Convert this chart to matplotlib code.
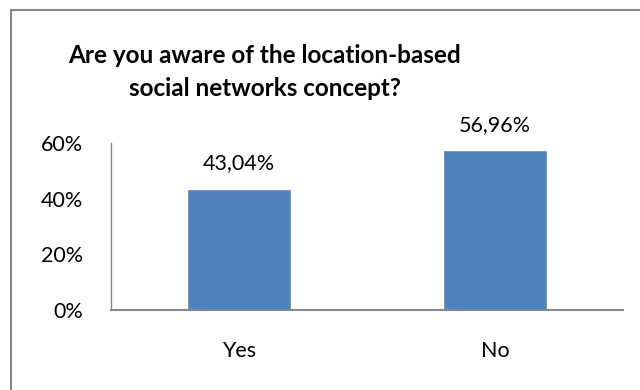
import matplotlib
matplotlib.use("Agg")
import matplotlib.pyplot as plt
from matplotlib.patches import Rectangle

categories = ["Yes", "No"]
values = [43.04, 56.96]
value_labels = ["43,04%", "56,96%"]
y_ticks = [0, 20, 40, 60]
y_tick_labels = ["0%", "20%", "40%", "60%"]
title = "Are you aware of the location-based\nsocial networks concept?"

W, H = 640, 390
fig = plt.figure(figsize=(W / 100, H / 100), dpi=100)
fig.patch.set_facecolor("white")

# outer chart frame (runs off the right and bottom edges)
fig.add_artist(Rectangle((10.5 / W, -0.05), 1.1, 1.05 - 10.5 / H,
                         transform=fig.transFigure, fill=False,
                         edgecolor="#868686", linewidth=1.5))

left, right, top, bottom = 111, 623, 143, 310
ax = fig.add_axes([left / W, 1 - bottom / H, (right - left) / W, (bottom - top) / H])

x = range(len(categories))
ax.bar(x, values, width=0.4, color="#4f81bd", edgecolor="#5a8ac6", linewidth=0.5, zorder=2)
ax.set_xlim(-0.5, 1.5)
ax.set_ylim(0, 60)

font = "Lato"
ax.set_yticks(y_ticks)
ax.set_yticklabels(y_tick_labels, fontsize=15.5, family=font)
ax.set_xticks(list(x))
ax.set_xticklabels(categories, fontsize=15.5, family=font)
ax.tick_params(axis="both", length=0, colors="black")
ax.tick_params(axis="y", pad=20)
ax.tick_params(axis="x", pad=22)

for s in ["top", "right"]:
    ax.spines[s].set_visible(False)
ax.spines["left"].set_color("#868686")
ax.spines["bottom"].set_color("#868686")
ax.spines["left"].set_linewidth(1.0)
ax.spines["bottom"].set_linewidth(1.5)

for xi, v, lab in zip(x, values, value_labels):
    ax.annotate(lab, (xi, v), xytext=(0, 12), textcoords="offset points",
                ha="center", va="bottom", fontsize=15.5, family=font)

fig.text(265 / W, 1 - 72 / H, title, ha="center", va="center",
         fontsize=17.5, fontweight="bold", family=font, linespacing=1.5)

fig.savefig("out.png", dpi=100, facecolor="white")
